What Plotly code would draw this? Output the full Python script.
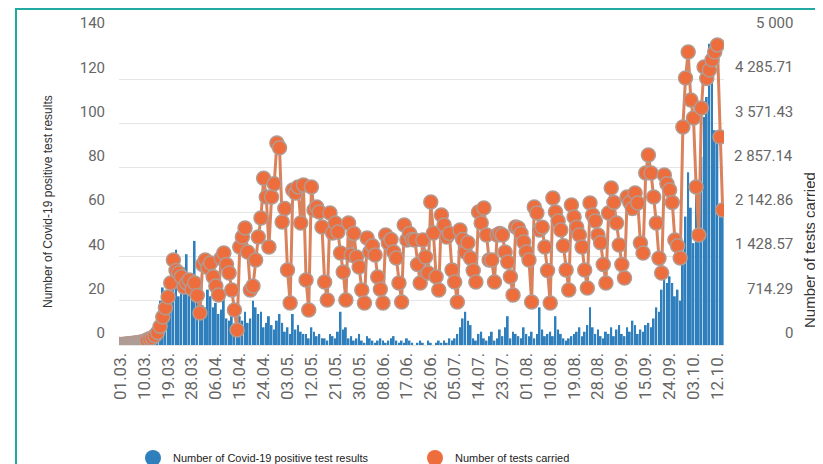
import pandas as pd
import plotly.graph_objects as go

# Daily number of Covid-19 positive test results (left axis), from 01.03.
positives = [
    0, 0, 0, 0, 0, 0, 1,
    1, 2, 1, 3, 2, 4, 5,
    8, 20, 26, 14, 19, 20, 30,
    43, 22, 29, 35, 41, 30, 26,
    47, 23, 20, 18, 17, 25, 22,
    17, 19, 14, 16, 22, 12, 11,
    14, 9, 16, 13, 11, 15, 10,
    12, 20, 17, 14, 15, 8, 10,
    13, 9, 7, 11, 14, 10, 6,
    8, 5, 14, 7, 9, 6, 5,
    5, 3, 8, 6, 4, 5, 3,
    3, 2, 5, 4, 3, 6, 15,
    7, 8, 3, 4, 2, 3, 5,
    2, 1, 4, 3, 2, 1, 2,
    3, 2, 1, 2, 3, 4, 2,
    1, 2, 1, 3, 2, 1, 0,
    1, 2, 1, 0, 2, 1, 0,
    1, 2, 1, 2, 1, 3, 2,
    3, 5, 8, 12, 15, 11, 9,
    3, 2, 5, 6, 3, 2, 4,
    6, 2, 3, 7, 4, 8, 13,
    3, 6, 5, 4, 3, 8, 5,
    4, 6, 3, 5, 17, 7, 4,
    5, 6, 4, 13, 7, 5, 3,
    2, 3, 4, 5, 6, 8, 4,
    6, 9, 17, 8, 5, 7, 4,
    3, 6, 5, 8, 4, 7, 9,
    5, 4, 8, 6, 11, 9, 5,
    7, 6, 9, 10, 8, 12, 17,
    15, 25, 34, 28, 31, 28, 22,
    25, 20, 40, 58, 78, 62, 46,
    67, 71, 85, 103, 112, 136, 124,
    97, 93, 60, 62,
]

# Daily number of tests carried (right axis)
tests = [
    10, 10, 15, 20, 25, 30, 35,
    40, 50, 60, 80, 100, 113, 150,
    200, 300, 450, 600, 774, 1000, 1371,
    1200, 1161, 1100, 935, 1000, 1050, 900,
    1000, 800, 516, 1300, 1371, 1250, 1322,
    1100, 950, 806, 1400, 1484, 1300, 1161,
    887, 564, 242, 1580, 1742, 1887, 1500,
    887, 950, 1371, 1742, 2048, 2690, 2387,
    1580, 2387, 2600, 3258, 3180, 1984, 2200,
    1210, 677, 2500, 2450, 2550, 1968, 2580,
    1048, 564, 2550, 2178, 2226, 2145, 1903,
    1016, 726, 2129, 1806, 1968, 1823, 1484,
    1177, 726, 1968, 1451, 1800, 1419, 1258,
    887, 677, 1726, 1500, 1600, 1450, 1097,
    900, 677, 1774, 1645, 1700, 1500, 1403,
    1000, 693, 1935, 1694, 1800, 1700, 1694,
    1300, 1000, 1694, 1419, 1161, 2306, 1806,
    1100, 887, 2097, 1935, 1742, 1800, 1210,
    1016, 693, 1855, 1700, 1500, 1650, 1400,
    1200, 1016, 2145, 1968, 2210, 1774, 1371,
    1371, 1016, 1774, 1800, 1774, 1500, 1339,
    1100, 806, 1903, 1887, 1800, 1661, 1500,
    1371, 693, 2226, 2129, 1855, 1900, 1580,
    1200, 677, 2371, 2145, 2000, 1855, 1600,
    1210, 887, 2258, 2065, 1900, 1774, 1580,
    1210, 919, 2290, 2097, 2000, 1774, 1650,
    1300, 1000, 2129, 2532, 2300, 1968, 1613,
    1300, 1081, 2387, 2300, 2200, 2452, 2290,
    1645, 1484, 2774, 3064, 2774, 2387, 1968,
    1400, 1161, 2742, 2600, 2500, 2300, 1694,
    1600, 1403, 3516, 4306, 4726, 3951, 3661,
    2549, 1774, 3823, 4484, 4300, 4435, 4600,
    4726, 4840, 3355, 2178,
]

dates = pd.date_range("2020-03-01", periods=len(positives), freq="D")
categories = [d.strftime("%d.%m.") for d in dates]
x_tick_labels = categories[::9]

left_ticks = [0, 20, 40, 60, 80, 100, 120, 140]
right_ticks = [i * 5000 / 7 for i in range(8)]
right_tick_text = ["0", "714.29", "1 428.57", "2 142.86", "2 857.14",
                   "3 571.43", "4 285.71", "5 000"]

series_names = ["Number of Covid-19 positive test results", "Number of tests carried"]
left_title = "Number of Covid-19 positive test results"
right_title = "Number of tests carried"

BLUE = "#2f7fbd"
ORANGE = "#ee6d3c"
GREY = "#a9a19d"

# the page body has an 8px margin: figure drawn from (8, 8)
OFF = 8
W, H = 823 - OFF, 464 - OFF
L, R, T, B = 119 - OFF, 99, 35 - OFF, 119
pw, ph = W - L - R, H - T - B

def px_x(p):  # page pixel -> paper x
    return (p - OFF - L) / pw

def px_y(p):  # page pixel -> paper y
    return (H - B - (p - OFF)) / ph

marker_colors = [GREY if i < 10 else ORANGE for i in range(len(tests))]

fig = go.Figure()
fig.add_trace(go.Bar(
    x=categories, y=positives, name=series_names[0],
    marker=dict(color=BLUE, line=dict(width=0)),
    yaxis="y", showlegend=False,
))
fig.add_trace(go.Scatter(
    x=categories, y=tests, name=series_names[1], mode="lines+markers",
    line=dict(color="#d9825c", width=3),
    marker=dict(size=14, color=marker_colors, line=dict(color="#b39a90", width=1.5)),
    yaxis="y2", showlegend=False,
))
# legend entries (circles)
fig.add_trace(go.Scatter(x=[None], y=[None], mode="markers", name=series_names[0],
                         marker=dict(size=16, color=BLUE), showlegend=True))
fig.add_trace(go.Scatter(x=[None], y=[None], mode="markers", name=series_names[1],
                         marker=dict(size=16, color=ORANGE), showlegend=True))

annotations = []
for v, t in zip(right_ticks, right_tick_text):
    annotations.append(dict(x=px_x(795), xref="paper", y=v, yref="y2", text=t,
                            showarrow=False, xanchor="right", yanchor="middle", yshift=12,
                            font=dict(family="Roboto", size=15, color="#666666")))
annotations.append(dict(x=px_x(48), xref="paper", y=px_y(202), yref="paper", text=left_title,
                        textangle=-90, showarrow=False, xanchor="center", yanchor="middle",
                        font=dict(family="Liberation Sans", size=12, color="#333333")))
annotations.append(dict(x=px_x(809), xref="paper", y=px_y(250), yref="paper", text=right_title,
                        textangle=-90, showarrow=False, xanchor="center", yanchor="middle",
                        font=dict(family="Liberation Sans", size=15, color="#333333")))

fig.update_layout(
    width=W, height=H,
    margin=dict(l=L, r=R, t=T, b=B, pad=0, autoexpand=False),
    paper_bgcolor="white", plot_bgcolor="white",
    bargap=0.3,
    xaxis=dict(type="category", tickmode="array", tickvals=x_tick_labels, ticktext=x_tick_labels,
               tickangle=-90, tickfont=dict(family="Roboto", size=17, color="#666666"),
               showgrid=False, showline=True, linecolor="#e6e6e6", ticks="", ticklen=0,
               automargin=False, range=[-0.5, len(categories) - 0.5]),
    yaxis=dict(range=[0, 140], tickvals=left_ticks, showgrid=True, gridcolor="#e6e6e6",
               zeroline=False, tickfont=dict(family="Roboto", size=15, color="#666666"),
               ticklabelstandoff=13, ticklabelshift=-12, ticks="", automargin=False),
    yaxis2=dict(range=[0, 5000], overlaying="y", side="right", showgrid=False,
                zeroline=False, showticklabels=False, tickvals=right_ticks, automargin=False),
    legend=dict(orientation="h", x=px_x(133), xanchor="left", y=px_y(458), yanchor="middle",
                font=dict(family="Liberation Sans", size=11, color="#222222"),
                itemsizing="trace", entrywidth=237, entrywidthmode="pixels", bgcolor="rgba(0,0,0,0)"),
    annotations=annotations,
    shapes=[dict(type="rect", xref="paper", yref="paper",
                 x0=px_x(16), x1=px_x(850), y0=px_y(9), y1=px_y(490),
                 line=dict(color="#22aaa2", width=2), fillcolor="rgba(0,0,0,0)", layer="above")],
)

fig.write_html("out.html")
